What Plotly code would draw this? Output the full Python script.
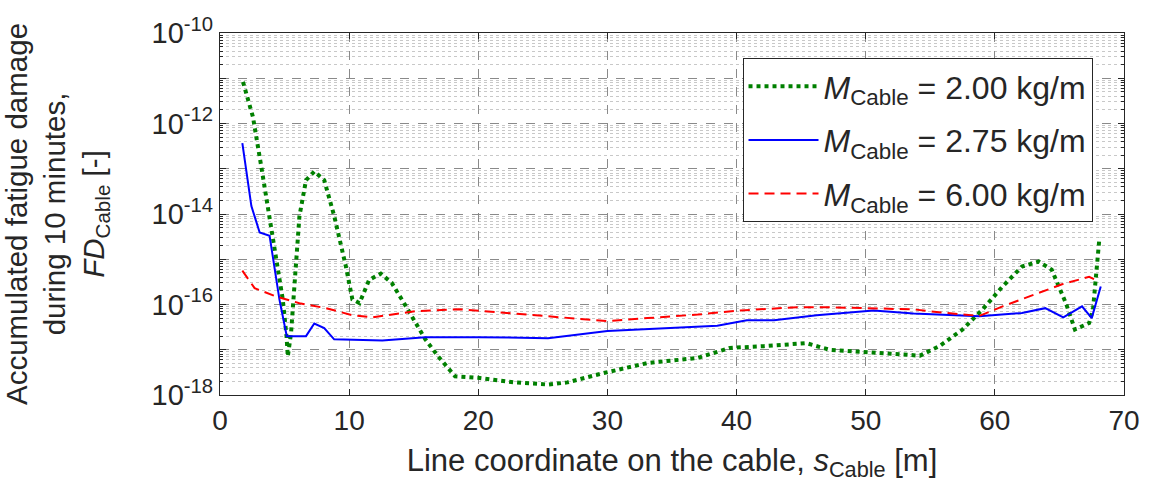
import plotly.graph_objects as go

# Line coordinate along the cable [m] and accumulated fatigue damage for each cable mass
s_m200 = [1.78, 2.55, 3.2, 3.8, 4.86, 5.15, 5.25, 5.5, 5.9, 6.15, 6.66, 7.3, 8.07, 8.85,
          9.75, 10.25, 10.8, 11.55, 12.45, 13.3, 14.4, 15.9, 16.9, 18.2, 20.0, 22.8, 25.4,
          26.9, 29.8, 33.1, 37.0, 39.5, 42.1, 45.4, 47.2, 51.1, 54.2, 55.7, 57.5, 59.05,
          60.6, 62.1, 63.4, 64.4, 65.5, 66.2, 67.3, 67.6, 68.1]
fd_m200 = [8.3e-12, 1.4e-12, 1.1e-13, 1.0e-14, 1.3e-16, 2.0e-17, 7.1e-18, 2.3e-17, 1.0e-15,
           8.9e-15, 5.6e-14, 8.7e-14, 5.6e-14, 8.9e-15, 6.9e-16, 1.3e-16, 1.07e-16, 3.5e-16,
           4.8e-16, 3.0e-16, 9.1e-17, 1.7e-17, 7.1e-18, 2.6e-18, 2.4e-18, 1.9e-18, 1.7e-18,
           1.9e-18, 3.1e-18, 5.1e-18, 6.6e-18, 1.1e-17, 1.2e-17, 1.4e-17, 1.0e-17, 8.5e-18,
           7.4e-18, 1.2e-17, 2.8e-17, 7.8e-17, 2.5e-16, 6.9e-16, 8.9e-16, 5.9e-16, 1.07e-16,
           2.8e-17, 3.9e-17, 7.8e-17, 3.0e-15]

s_m275 = [1.73, 2.43, 3.07, 3.84, 4.6, 5.17, 6.66, 7.3, 8.07, 8.84, 12.57, 15.9, 20.0, 25.4,
          30.0, 34.4, 38.5, 40.8, 42.9, 46.2, 50.6, 53.7, 56.5, 58.8, 62.1, 63.9, 65.3,
          66.75, 67.5, 68.2]
fd_m275 = [3.7e-13, 1.5e-14, 3.9e-15, 3.3e-15, 1.3e-16, 2.0e-17, 2.0e-17, 3.8e-17, 3.0e-17,
           1.7e-17, 1.6e-17, 1.9e-17, 1.9e-17, 1.8e-17, 2.6e-17, 3.0e-17, 3.4e-17, 4.5e-17,
           4.5e-17, 5.8e-17, 7.4e-17, 6.3e-17, 5.9e-17, 5.5e-17, 6.5e-17, 8.3e-17, 5.2e-17,
           9.1e-17, 5.0e-17, 2.5e-16]

s_m600 = [1.73, 2.68, 4.35, 6.15, 8.2, 10.25, 11.8, 15.1, 18.5, 22.8, 25.4, 30.0, 33.1, 37.0,
          40.3, 44.7, 47.2, 50.6, 53.7, 56.2, 58.8, 60.6, 62.6, 65.2, 67.3, 68.1]
fd_m600 = [5.6e-16, 2.3e-16, 1.5e-16, 1.07e-16, 8.3e-17, 5.8e-17, 5.2e-17, 7.1e-17, 7.9e-17,
           6.3e-17, 5.5e-17, 4.3e-17, 5.0e-17, 6.0e-17, 7.4e-17, 8.7e-17, 8.7e-17, 8.3e-17,
           7.8e-17, 6.5e-17, 5.6e-17, 9.1e-17, 1.5e-16, 2.8e-16, 4.1e-16, 3.2e-16]

series_names = ["<i>M</i><sub>Cable</sub> = 2.00 kg/m",
                "<i>M</i><sub>Cable</sub> = 2.75 kg/m",
                "<i>M</i><sub>Cable</sub> = 6.00 kg/m"]

x_ticks = [0, 10, 20, 30, 40, 50, 60, 70]
y_decades = list(range(-18, -9))  # 1e-18 ... 1e-10

FONT = "Liberation Sans, Arial, sans-serif"
INK = "#262626"

fig = go.Figure()
fig.add_trace(go.Scatter(x=s_m200, y=fd_m200, mode="lines", name=series_names[0],
                         legendgroup="m200",
                         line=dict(color="#008000", width=4, dash="4px,4px")))
fig.add_trace(go.Scatter(x=s_m275, y=fd_m275, mode="lines", name=series_names[1],
                         legendgroup="m275",
                         line=dict(color="#0000ff", width=2)))
fig.add_trace(go.Scatter(x=s_m600, y=fd_m600, mode="lines", name=series_names[2],
                         legendgroup="m600",
                         line=dict(color="#ff0000", width=2, dash="10px,6px")))

# Decade ticks: label only the even exponents, every decade gets a dashed grid line
y_tickvals = [10.0 ** d for d in y_decades]
y_ticktext = [f"10<sup>{d}</sup>" if d % 2 == 0 else "" for d in y_decades]
y_minor = [m * 10.0 ** d for d in y_decades[:-1] for m in range(2, 10)]

fig.update_xaxes(
    range=[0, 70], tickvals=x_ticks, ticktext=[str(v) for v in x_ticks],
    showgrid=True, gridcolor="#8a8a8a", griddash="dash", gridwidth=1,
    showline=True, linecolor=INK, linewidth=1.2, mirror="ticks",
    ticks="inside", ticklen=6, tickcolor=INK,
    tickfont=dict(size=28, color=INK, family=FONT),
    title=dict(text="Line coordinate on the cable, <i>s</i><sub>Cable</sub> [m]",
               font=dict(size=31, color=INK, family=FONT), standoff=14),
    zeroline=False,
)
fig.update_yaxes(
    type="log", range=[-18, -10], tickmode="array", tickvals=y_tickvals, ticktext=y_ticktext,
    showgrid=True, gridcolor="#8a8a8a", griddash="dash", gridwidth=1,
    showline=True, linecolor=INK, linewidth=1.2, mirror="ticks",
    ticks="inside", ticklen=6, tickcolor=INK,
    tickfont=dict(size=29, color=INK, family=FONT),
    minor=dict(tickmode="array", tickvals=y_minor, ticks="inside", ticklen=3,
               tickcolor=INK, showgrid=True, gridcolor="#c8c8c8",
               griddash="dot", gridwidth=1),
    title=dict(text="Accumulated fatigue damage<br>during 10 minutes,<br>"
                    "<i>FD</i><sub>Cable</sub> [-]",
               font=dict(size=29.5, color=INK, family=FONT), standoff=38),
    zeroline=False,
)

fig.update_layout(
    width=1152, height=495,
    margin=dict(l=220, r=24, t=33, b=100),
    plot_bgcolor="white", paper_bgcolor="white",
    font=dict(family=FONT, color=INK),
    showlegend=True,
    legend=dict(x=0.578, y=0.931, xanchor="left", yanchor="top",
                bgcolor="white", bordercolor=INK, borderwidth=1,
                font=dict(size=32, color=INK, family=FONT),
                tracegroupgap=9, itemwidth=70),
)

fig.write_html("out.html")
